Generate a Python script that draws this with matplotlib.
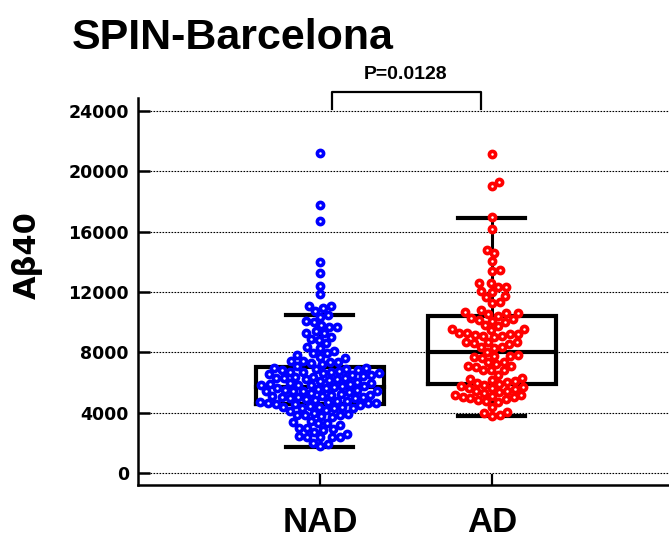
import numpy as np
import matplotlib
matplotlib.use("Agg")
import matplotlib.pyplot as plt

# Data
groups = ["NAD", "AD"]
nad = [21200, 17770, 16710, 14010, 13240, 12400, 11870, 11100, 11050, 10950, 10770,
       10470, 10340, 10050, 10010,
       9810, 9700, 9650,
       9400, 9280, 9250, 9020,
       8880, 8820, 8600,
       8350, 8290, 8090,
       7960, 7920, 7800, 7700, 7600,
       7450, 7400, 7380, 7350, 7300, 7200, 7080,
       6980, 6950, 6900, 6880, 6850, 6800, 6760, 6720, 6700, 6680, 6650, 6600, 6560, 6520,
       6480, 6420, 6380, 6350, 6320, 6300, 6280, 6250, 6200, 6150, 6100, 6050,
       5980, 5950, 5900, 5880, 5850, 5830, 5800, 5780, 5750, 5700, 5650, 5600, 5560, 5520,
       5480, 5450, 5440, 5420, 5400, 5350, 5300, 5250, 5200, 5150, 5100, 5080, 5060, 5040, 5020,
       4980, 4950, 4900, 4850, 4800, 4760, 4720, 4680, 4650, 4640, 4620, 4600, 4550,
       4480, 4450, 4400, 4380, 4350, 4320, 4310, 4300, 4200, 4100,
       3980, 3900, 3870, 3850, 3820, 3800, 3700,
       3450, 3350, 3310, 3300, 3180,
       2980, 2950, 2900, 2850, 2720, 2600,
       2450, 2400, 2390, 2380, 2350,
       1990, 1920, 1790]
ad = [21150, 19310, 19050, 16950, 16160,
      14780, 14590, 14080,
      13460, 13410,
      12600, 12580, 12350, 12330, 12090, 12020,
      11740, 11650, 11360, 11300,
      10800, 10650, 10620, 10600, 10550, 10400, 10300, 10190, 10140, 10100, 10030,
      9810, 9770, 9530, 9520, 9500,
      9300, 9260, 9200, 9180, 9150, 9100, 9050, 9000,
      8700, 8670, 8650, 8600, 8550,
      8380, 8350, 8300, 8040,
      7820, 7760, 7740, 7700, 7650,
      7380, 7350, 7230, 7090, 7080, 7050,
      6850, 6830, 6800, 6500,
      6300, 6250, 6180, 6120, 6050,
      5960, 5900, 5850, 5780, 5720, 5650, 5600, 5550,
      5450, 5400, 5350, 5280, 5200, 5150, 5100, 5060, 5020,
      4960, 4900, 4840, 4770, 4700,
      4400, 4070,
      3960, 3850, 3800]
colors = ["#0000ff", "#ff0000"]

# box stats
q1 = [4570, 5900]
med = [5720, 8000]
q3 = [7050, 10430]
w_lo = [1745, 3800]
w_hi = [10475, 16930]

yticks = [0, 4000, 8000, 12000, 16000, 20000, 24000]
p_text = "P=0.0128"
title = "SPIN-Barcelona"

fig = plt.figure(figsize=(6.69, 5.39), dpi=100)
ax = fig.add_axes([138 / 669, 1 - 485 / 539, 531 / 669, 387 / 539])
ax.set_xlim(-0.058, 3.03)
ax.set_ylim(-800, 24860)


# Swarm layout in pixel space
def swarm(values, xc, d=8.0):
    pts = ax.transData.transform(np.column_stack([np.full(len(values), xc), values]))
    ys = pts[:, 1]
    x0 = pts[0, 0]
    xs = np.zeros(len(values))
    placed = []
    for i in np.argsort(ys):
        y = ys[i]
        near = [(px, py) for px, py in placed if abs(py - y) < d]
        cands = [0.0]
        for px, py in near:
            dx = np.sqrt(d * d - (py - y) ** 2)
            cands += [px - x0 + dx, px - x0 - dx]
        cands.sort(key=abs)
        for c in cands:
            if all((x0 + c - px) ** 2 + (y - py) ** 2 >= d * d - 1e-6 for px, py in near):
                break
        xs[i] = x0 + c
        placed.append((x0 + c, y))
    back = ax.transData.inverted().transform(np.column_stack([xs, ys]))
    return back[:, 0]


# Grid
for t in yticks:
    ax.axhline(t, color="black", lw=0.8, ls=(0, (1.5, 1.2)), zorder=0)

# Boxes
bw = 0.37
cw = 0.195
for i, x in enumerate([1, 2]):
    ax.plot([x - bw, x + bw, x + bw, x - bw, x - bw], [q1[i], q1[i], q3[i], q3[i], q1[i]],
            color="black", lw=3, solid_joinstyle="miter", zorder=2)
    ax.plot([x - bw, x + bw], [med[i], med[i]], color="black", lw=3, zorder=2)
    ax.plot([x, x], [q3[i], w_hi[i]], color="black", lw=2.2, zorder=2)
    ax.plot([x, x], [q1[i], w_lo[i]], color="black", lw=2.2, zorder=2)
    ax.plot([x - cw, x + cw], [w_hi[i], w_hi[i]], color="black", lw=3, zorder=2)
    ax.plot([x - cw, x + cw], [w_lo[i], w_lo[i]], color="black", lw=3, zorder=2)

# Points
for i, vals in enumerate([nad, ad]):
    xs = swarm(vals, i + 1)
    ax.scatter(xs, vals, s=20, facecolors="white", edgecolors=colors[i],
               linewidths=2.6, zorder=3)

# Axes styling
for s in ["top", "right"]:
    ax.spines[s].set_visible(False)
for s in ["left", "bottom"]:
    ax.spines[s].set_linewidth(1.8)
ax.set_yticks(yticks)
ax.set_yticklabels([str(t) for t in yticks], fontfamily="DejaVu Sans",
                   fontweight="bold", fontsize=12.5)
ax.tick_params(axis="y", direction="in", length=8.6, width=1.8, pad=6.5)
ax.set_xticks([1, 2])
ax.set_xticklabels(groups, fontfamily="Liberation Sans", fontweight="bold", fontsize=25)
ax.tick_params(axis="x", direction="in", length=8, width=1.6, pad=15)

ax.set_ylabel("A\u03b240", fontfamily="DejaVu Sans", fontweight="bold", fontsize=22)
ax.yaxis.set_label_coords(-0.179, 0.594)

# Significance bracket
ax.plot([1.07, 1.07, 1.936, 1.936], [24100, 25260, 25260, 24100], color="black",
        lw=1.6, clip_on=False, solid_joinstyle="round")
ax.text(1.5, 26150, p_text, ha="center", va="baseline", fontfamily="Liberation Sans",
        fontweight="bold", fontsize=14)

fig.text(72 / 669, 1 - 49 / 539, title, ha="left", va="baseline",
         fontfamily="Liberation Sans", fontweight="bold", fontsize=31)

fig.savefig("out.png", dpi=100)
